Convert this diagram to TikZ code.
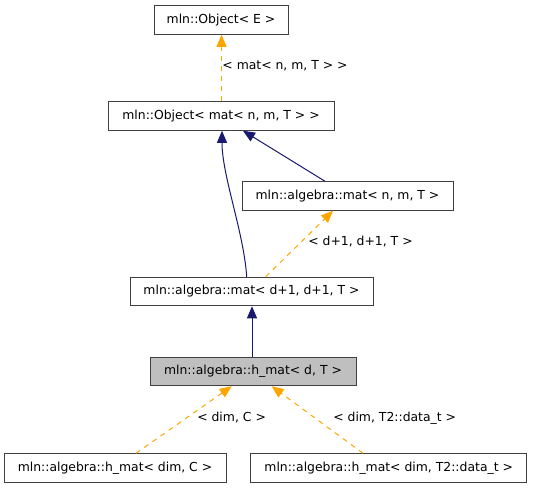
\documentclass[tikz,border=0pt]{standalone}
\usepackage{fontspec}
\setmainfont{DejaVu Sans}
\usetikzlibrary{arrows.meta}
\definecolor{navyedge}{HTML}{191970}
\definecolor{orangeedge}{HTML}{FFA500}
\definecolor{boxborder}{HTML}{404040}
\definecolor{boxfill}{HTML}{BFBFBF}
\begin{document}
\begin{tikzpicture}[x=1pt,y=-1pt,
  font=\fontsize{12.4}{14}\selectfont,
  cls/.style={draw=boxborder,line width=1pt,fill=white,minimum height=28.5pt,inner sep=0pt,anchor=center},
  inherit/.style={draw=navyedge,line width=1pt,-{Triangle[length=12pt,width=10pt]}},
  templ/.style={draw=orangeedge,line width=1pt,dash pattern=on 5pt off 5pt,-{Triangle[length=12pt,width=10pt]}},
  lbl/.style={inner sep=0pt,anchor=center}]
\useasboundingbox (0,0) rectangle (533,488);
\node[cls,minimum width=134pt] (n1) at (221,20) {mln::Object< E >};
\node[cls,minimum width=226pt] (n2) at (221,116) {mln::Object< mat< n, m, T > >};
\node[cls,minimum width=211pt] (n3) at (347.5,196) {mln::algebra::mat< n, m, T >};
\node[cls,minimum width=243pt] (n4) at (251.5,291.5) {mln::algebra::mat< d+1, d+1, T >};
\node[cls,minimum width=206pt,fill=boxfill] (n5) at (253,371.5) {mln::algebra::h\_mat< d, T >};
\node[cls,minimum width=222pt] (n6) at (115,468) {mln::algebra::h\_mat< dim, C >};
\node[cls,minimum width=276pt] (n7) at (388.7,468) {mln::algebra::h\_mat< dim, T2::data\_t >};

\draw[templ] ([xshift=0.5pt]n2.north) -- ([xshift=0.5pt]n1.south);
\node[lbl] (l1) at (285,66) {< mat< n, m, T > >};
\draw[inherit] ([xshift=-4.8pt]n4.north) .. controls +(-3,-45) and +(0,45) .. ([xshift=1pt]n2.south);
\draw[inherit] ([xshift=-22.5pt]n3.north) -- ([xshift=22pt]n2.south);
\draw[templ] ([xshift=14.2pt]n4.north) -- ([xshift=-14.5pt]n3.south);
\node[lbl] (l2) at (360.5,242) {< d+1, d+1, T >};
\draw[inherit] ([xshift=-1pt]n5.north) -- ([xshift=0.5pt]n4.south);
\draw[templ] ([xshift=21pt]n6.north) -- ([xshift=-21.3pt]n5.south);
\draw[templ] ([xshift=-25.7pt]n7.north) -- ([xshift=18.7pt]n5.south);
\node[lbl] (l3) at (231.6,418) {< dim, C >};
\node[lbl] (l4) at (394.7,418) {< dim, T2::data\_t >};
\end{tikzpicture}
\end{document}
